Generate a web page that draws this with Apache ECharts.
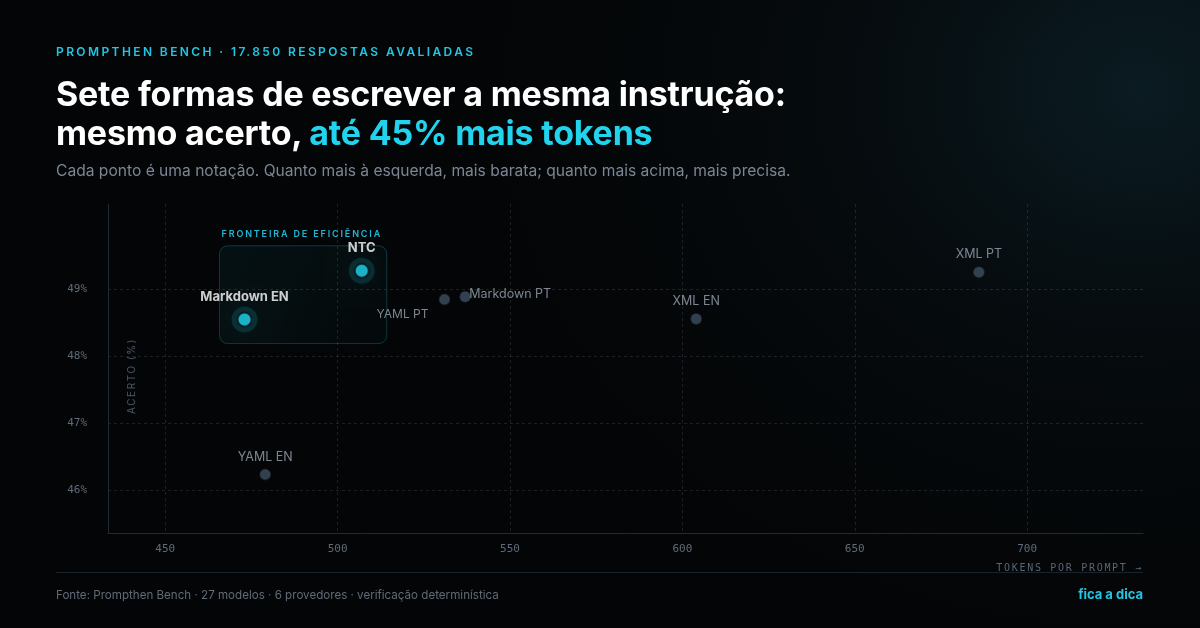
<!DOCTYPE html>
<html lang="pt-BR">
<head>
<meta charset="utf-8">
<title>Prompthen Bench</title>
<script src="https://cdn.jsdelivr.net/npm/echarts@6/dist/echarts.min.js"></script>
<style>
html, body { margin: 0; padding: 0; }
body {
  width: 1200px; height: 628px; overflow: hidden; position: relative;
  background: #040506;
  background-image: radial-gradient(ellipse 640px 540px at 1140px 90px, rgba(16,46,56,0.55) 0%, rgba(9,24,31,0.32) 45%, rgba(4,5,6,0) 100%);
  font-family: Inter, "Noto Sans", sans-serif;
}
#chart { position: absolute; left: 0; top: 0; width: 1200px; height: 628px; }
.txt { position: absolute; white-space: nowrap; pointer-events: none; z-index: 2; }
#kicker { left: 56px; top: 44px; font-size: 12px; line-height: 16px; font-weight: 600; letter-spacing: 2.4px; color: #22c6e3; }
#title { left: 56px; top: 74px; font-size: 34px; line-height: 39px; font-weight: 700; color: #ffffff; letter-spacing: -0.2px; }
#title span { color: #22d3ee; }
#sub { left: 56px; top: 161px; font-size: 15.6px; line-height: 20px; color: #7b8694; }
#ylab { left: 131px; top: 376px; transform: translate(-50%, -50%) rotate(-90deg); font-size: 10px; letter-spacing: 1.6px; color: #4d5a68; }
#xlab { right: 57px; top: 561px; font-size: 10px; line-height: 14px; letter-spacing: 1.7px; color: #5a6674; font-family: "DejaVu Sans Mono", monospace; }
#rule { position: absolute; left: 56px; top: 572px; width: 1087px; height: 1px; background: #1a232c; z-index: 2; }
#src { left: 56px; top: 587px; font-size: 11.6px; line-height: 16px; color: #5f6b78; }
#brand { right: 57px; top: 586px; font-size: 13px; line-height: 16px; font-weight: 700; color: #22c6e3; }
#frontLab { font-size: 9px; line-height: 12px; font-weight: 600; letter-spacing: 1.85px; color: #1fb9d6; }
</style>
</head>
<body>
<div id="chart"></div>
<div class="txt" id="kicker">PROMPTHEN BENCH · 17.850 RESPOSTAS AVALIADAS</div>
<div class="txt" id="title">Sete formas de escrever a mesma instrução:<br>mesmo acerto, <span>até 45% mais tokens</span></div>
<div class="txt" id="sub">Cada ponto é uma notação. Quanto mais à esquerda, mais barata; quanto mais acima, mais precisa.</div>
<div class="txt" id="ylab">ACERTO (%)</div>
<div class="txt" id="xlab">TOKENS POR PROMPT →</div>
<div id="rule"></div>
<div class="txt" id="src">Fonte: Prompthen Bench · 27 modelos · 6 provedores · verificação determinística</div>
<div class="txt" id="brand">fica a dica</div>
<div class="txt" id="frontLab">FRONTEIRA DE EFICIÊNCIA</div>
<script>
// notações e resultados
var names  = ['Markdown EN', 'NTC', 'YAML PT', 'Markdown PT', 'XML EN', 'XML PT', 'YAML EN'];
var tokens = [473, 507, 531, 537, 604, 686, 479];
var acerto = [48.55, 49.28, 48.85, 48.89, 48.56, 49.26, 46.23];
var frontier = ['Markdown EN', 'NTC'];

var xTicks = [450, 500, 550, 600, 650, 700];
var yTicks = [46, 47, 48, 49];

var chart = echarts.init(document.getElementById('chart'), null, { renderer: 'canvas' });

var cyan = '#22d3ee';
var gridColor = 'rgba(110,130,150,0.22)';
var tickFont = { color: '#606c7a', fontSize: 11, fontFamily: '"DejaVu Sans Mono", monospace' };

// posição dos rótulos por ponto
function labelFor(name) {
  if (frontier.indexOf(name) >= 0) {
    return { show: true, formatter: '{b}', position: 'top', distance: 8, color: '#ffffff', fontSize: 13, fontWeight: 'bold', fontFamily: 'Inter, sans-serif' };
  }
  var base = { show: true, formatter: '{b}', color: '#9ba6b4', fontSize: 12.5, fontFamily: 'Inter, sans-serif' };
  if (name === 'YAML PT') return Object.assign(base, { position: 'left', distance: 10, offset: [0, 15], fontSize: 12 });
  if (name === 'Markdown PT') return Object.assign(base, { position: 'right', distance: -2, offset: [0, -3] });
  return Object.assign(base, { position: 'top', distance: 5 });
}

var points = names.map(function (n, i) {
  var hot = frontier.indexOf(n) >= 0;
  return {
    name: n,
    value: [tokens[i], acerto[i]],
    symbolSize: hot ? 14 : 10,
    itemStyle: hot
      ? { color: cyan, borderColor: '#06151a', borderWidth: 2 }
      : { color: '#3f4d60', borderColor: 'rgba(70,88,108,0.35)', borderWidth: 2 },
    label: labelFor(n)
  };
});

var halos = frontier.map(function (n) {
  var i = names.indexOf(n);
  return [tokens[i], acerto[i]];
});

var option = {
  animation: false,
  backgroundColor: 'transparent',
  grid: { left: 108, right: 57, top: 204, bottom: 95 },
  xAxis: {
    type: 'value', min: 433.4, max: 733.6,
    axisLine: { show: true, lineStyle: { color: '#1f2c37', width: 1 } },
    axisTick: { show: false, customValues: xTicks },
    axisLabel: Object.assign({ customValues: xTicks, margin: 11 }, tickFont),
    splitLine: { show: true, lineStyle: { color: gridColor, type: [3, 3], width: 1 } }
  },
  yAxis: {
    type: 'value', min: 45.355, max: 50.28,
    axisLine: { show: true, lineStyle: { color: '#1f2c37', width: 1 } },
    axisTick: { show: false, customValues: yTicks },
    axisLabel: Object.assign({ customValues: yTicks, margin: 21, formatter: '{value}%' }, tickFont),
    splitLine: { show: true, lineStyle: { color: gridColor, type: [3, 3], width: 1 } }
  },
  series: [
    {
      type: 'scatter', silent: true, z: 3,
      symbolSize: 26,
      itemStyle: { color: 'rgba(34,211,238,0.18)', shadowBlur: 22, shadowColor: 'rgba(34,211,238,0.35)' },
      data: halos
    },
    {
      type: 'scatter', z: 4,
      data: points
    }
  ]
};

chart.setOption(option);

// caixa da fronteira de eficiência em volta dos pontos destacados
var px = frontier.map(function (n) {
  var i = names.indexOf(n);
  return chart.convertToPixel({ gridIndex: 0 }, [tokens[i], acerto[i]]);
});
var xs = px.map(function (p) { return p[0]; });
var ys = px.map(function (p) { return p[1]; });
var bx0 = Math.min.apply(null, xs) - 25, bx1 = Math.max.apply(null, xs) + 25;
var by0 = Math.min.apply(null, ys) - 25, by1 = Math.max.apply(null, ys) + 24;

chart.setOption({
  graphic: [{
    type: 'rect', silent: true, z: 1,
    shape: { x: bx0, y: by0, width: bx1 - bx0, height: by1 - by0, r: 8 },
    style: {
      fill: new echarts.graphic.LinearGradient(0, 0, 1, 1, [
        { offset: 0, color: 'rgba(34,211,238,0.06)' },
        { offset: 1, color: 'rgba(34,211,238,0.025)' }
      ]),
      stroke: 'rgba(34,211,238,0.24)', lineWidth: 1
    }
  }]
});

var fl = document.getElementById('frontLab');
fl.style.left = (bx0 + 2) + 'px';
fl.style.top = (by0 - 18) + 'px';
</script>
</body>
</html>
